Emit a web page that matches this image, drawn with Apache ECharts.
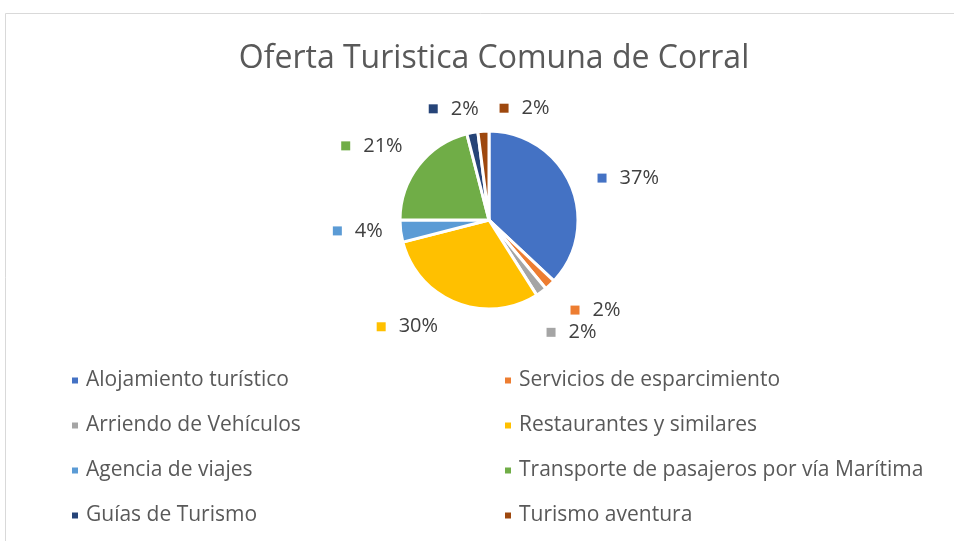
<!DOCTYPE html>
<html>
<head>
<meta charset="utf-8">
<script src="https://cdn.jsdelivr.net/npm/echarts@6/dist/echarts.min.js"></script>
<style>html,body{margin:0;padding:0;background:#fff;}#c{width:954px;height:541px;}</style>
</head>
<body>
<div id="c"></div>
<script>
const categories = ["Alojamiento turístico","Servicios de esparcimiento","Arriendo de Vehículos","Restaurantes y similares","Agencia de viajes","Transporte de pasajeros por vía Marítima","Guías de Turismo","Turismo aventura"];
const values = [37, 2, 2, 30, 4, 21, 2, 2];
const colors = ["#4472C4","#ED7D31","#A5A5A5","#FFC000","#5B9BD5","#70AD47","#264478","#9E480E"];
const titleText = "Oferta Turistica Comuna de Corral";

// label nudges (style only) to mimic the spreadsheet's best-fit placement
const labelNudge = [[5,-1],[2,15],[-12,29],[-4,11],[5,-2],[4,-11],[18,-10],[76,-9]];

const FONT = "Open Sans";
const chart = echarts.init(document.getElementById('c'), null, {renderer:'canvas'});
const data = categories.map((n,i)=>({
  name:n, value:values[i],
  itemStyle:{color:colors[i]},
  label:{rich:{m:{width:9,height:9,backgroundColor:colors[i]}, v:{color:'#404040',fontSize:20,fontFamily:FONT,padding:[0,0,0,13]}}}
}));
const leftNames = categories.filter((_,i)=>i%2===0);
const rightNames = categories.filter((_,i)=>i%2===1);
const legendBase = {
  orient:'vertical', itemWidth:8, itemHeight:8, icon:'rect', itemGap:24,
  textStyle:{color:'#595959', fontSize:21, fontFamily:FONT, padding:[0,0,0,2]},
  top:365
};
chart.setOption({
  animation:false,
  color:colors,
  title:{text:titleText, left:489, textAlign:'center', top:38, textStyle:{fontFamily:FONT, fontWeight:'normal', fontSize:32, color:'#595959'}},
  graphic:[{type:'rect', shape:{x:5.5,y:13.5,width:1000,height:600}, style:{fill:'none', stroke:'#d9d9d9', lineWidth:1}}],
  legend:[
    Object.assign({}, legendBase, {data:leftNames, left:65}),
    Object.assign({}, legendBase, {data:rightNames, left:498})
  ],
  series:[{
    type:'pie', center:[489,220], radius:89, startAngle:90, clockwise:true,
    avoidLabelOverlap:false,
    itemStyle:{borderColor:'#fff', borderWidth:3},
    label:{show:true, position:'outside', formatter:'{m|}{v|{d}%}'},
    labelLine:{show:false, length:14, length2:4},
    labelLayout:function(p){
      const n = labelNudge[p.dataIndex] || [0,0];
      return {hideOverlap:false, moveOverlap:null, dx:n[0], dy:n[1]};
    },
    data:data
  }]
});
</script>
</body>
</html>
